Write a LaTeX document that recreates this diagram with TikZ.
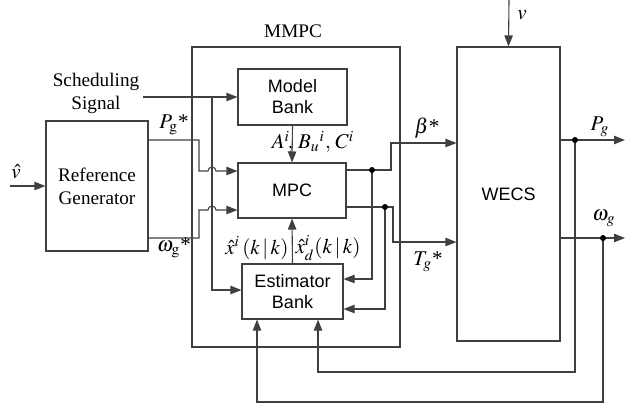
\documentclass[tikz,border=0pt]{standalone}
\usepackage{mathptmx}
\usepackage{fontspec}
\setmainfont{Liberation Serif}
\setsansfont{Liberation Sans}
\usetikzlibrary{arrows.meta}
\begin{document}
\begin{tikzpicture}[x=0.5pt,y=-0.5pt,
  line width=0.55pt, draw=black!75,
  box/.style={draw=black!75,rectangle,inner sep=0pt,align=center},
  sbox/.style={box,font=\sffamily\fontsize{9}{10.5}\selectfont},
  rbox/.style={box,font=\fontsize{9.6}{11.5}\selectfont},
  arr/.style={-{Triangle[length=5.5pt,width=4.2pt]}},
  lbl/.style={inner sep=0pt,font=\fontsize{10.5}{12}\selectfont},
  dot/.style={circle,fill=black,inner sep=0pt,minimum size=3pt}]
\useasboundingbox (0,0) rectangle (625,408);
% boxes
\node[box,minimum width=104pt,minimum height=150pt] (mmpc) at (296,197) {};
\node[lbl,font=\fontsize{9.6}{11}\selectfont] (mmpclbl) at (293,31) {MMPC};
\node[sbox,minimum width=54.5pt,minimum height=28pt] (mb) at (292.5,97) {Model\\Bank};
\node[sbox,minimum width=54pt,minimum height=27.5pt] (mpc) at (292,190.5) {MPC};
\node[sbox,minimum width=50.5pt,minimum height=27.5pt] (eb) at (292.5,291.5) {Estimator\\Bank};
\node[rbox,minimum width=51pt,minimum height=65pt] (rg) at (97,186) {Reference\\Generator};
\node[sbox,minimum width=51.5pt,minimum height=147pt] (wecs) at (508.5,194) {WECS};
\node[lbl,align=center,font=\fontsize{9.6}{11.5}\selectfont] (sched) at (96,93) {Scheduling\\Signal};
% coordinates
\coordinate (sA) at (143,97);
\coordinate (sj) at (212,97);
\coordinate (sk) at (212,290);
\coordinate (p1) at (199,140);
\coordinate (p2) at (199,171);
\coordinate (w1) at (199,238);
\coordinate (w2) at (199,210);
\coordinate (b1) at (372,170);
\coordinate (b2) at (391,143);
\coordinate (e1) at (372,279);
\coordinate (t1) at (385,207);
\coordinate (t2) at (393,242);
\coordinate (e2) at (385,309);
\coordinate (g1) at (575,140);
\coordinate (g2) at (603,238);
\coordinate (f1) at (318,372);
\coordinate (f2) at (257,402);
\coordinate (pout) at (625,140);
\coordinate (wout) at (625,238);
\coordinate (vtop) at (509,0);
\coordinate (vh) at (10,186);
% connectors
\draw[arr] (sA) -- (sA -| mb.west);
\draw[arr] (sj) -- (sk) -- (sk -| eb.west);
\draw[arr] (rg.east |- p1) -- (p1) -- (p2) -- (208,171) arc[start angle=180,end angle=360,radius=4] -- (p2 -| mpc.west);
\draw[arr] (rg.east |- w1) -- (w1) -- (w2) -- (208,210) arc[start angle=180,end angle=360,radius=4] -- (w2 -| mpc.west);
\draw[arr] (mb.south) -- (mpc.north);
\draw[arr] (eb.north) -- (mpc.south);
\draw[arr] (mpc.east |- b1) -- (391,170) -- (b2) -- (b2 -| wecs.west);
\draw[arr] (b1) -- (e1) -- (e1 -| eb.east);
\draw[arr] (mpc.east |- t1) -- (393,207) -- (t2) -- (t2 -| wecs.west);
\draw[arr] (t1) -- (e2) -- (e2 -| eb.east);
\draw[arr] (wecs.east |- g1) -- (pout);
\draw[arr] (wecs.east |- g2) -- (wout);
\draw[arr] (g1) -- (g1 |- f1) -- (f1) -- (f1 |- eb.south);
\draw[arr] (g2) -- (g2 |- f2) -- (f2) -- (f2 |- eb.south);
\draw[arr] (vtop) -- (wecs.north);
\draw[arr] (vh) -- (rg.west);
\node[dot] at (b1) {};
\node[dot] at (t1) {};
\node[dot] at (g1) {};
\node[dot] at (g2) {};
% labels
\node[lbl] (lvh) at (16,172) {$\hat{v}$};
\node[lbl] (lv) at (522,15) {$v$};
\node[lbl] (lpgs) at (174,125) {$P_{\mathrm{g}}$*};
\node[lbl] (lwgs) at (174,248) {$\omega_{\mathrm{g}}$*};
\node[lbl] (lb) at (427,128) {$\beta$*};
\node[lbl] (ltg) at (428,262) {$T_g$*};
\node[lbl] (lpg) at (600,127) {$P_g$};
\node[lbl] (lwg) at (604,218) {$\omega_g$};
\node[lbl] (labc) at (313,142) {$A^i\!,\,B_u{}^i,\,C^i$};
\node[lbl,anchor=east] (lx) at (289,248) {$\hat{x}^i\,(k\,|\,k)$};
\node[lbl,anchor=west] (lxd) at (295,248) {$\hat{x}_d^i(k\,|\,k)$};
\end{tikzpicture}
\end{document}
